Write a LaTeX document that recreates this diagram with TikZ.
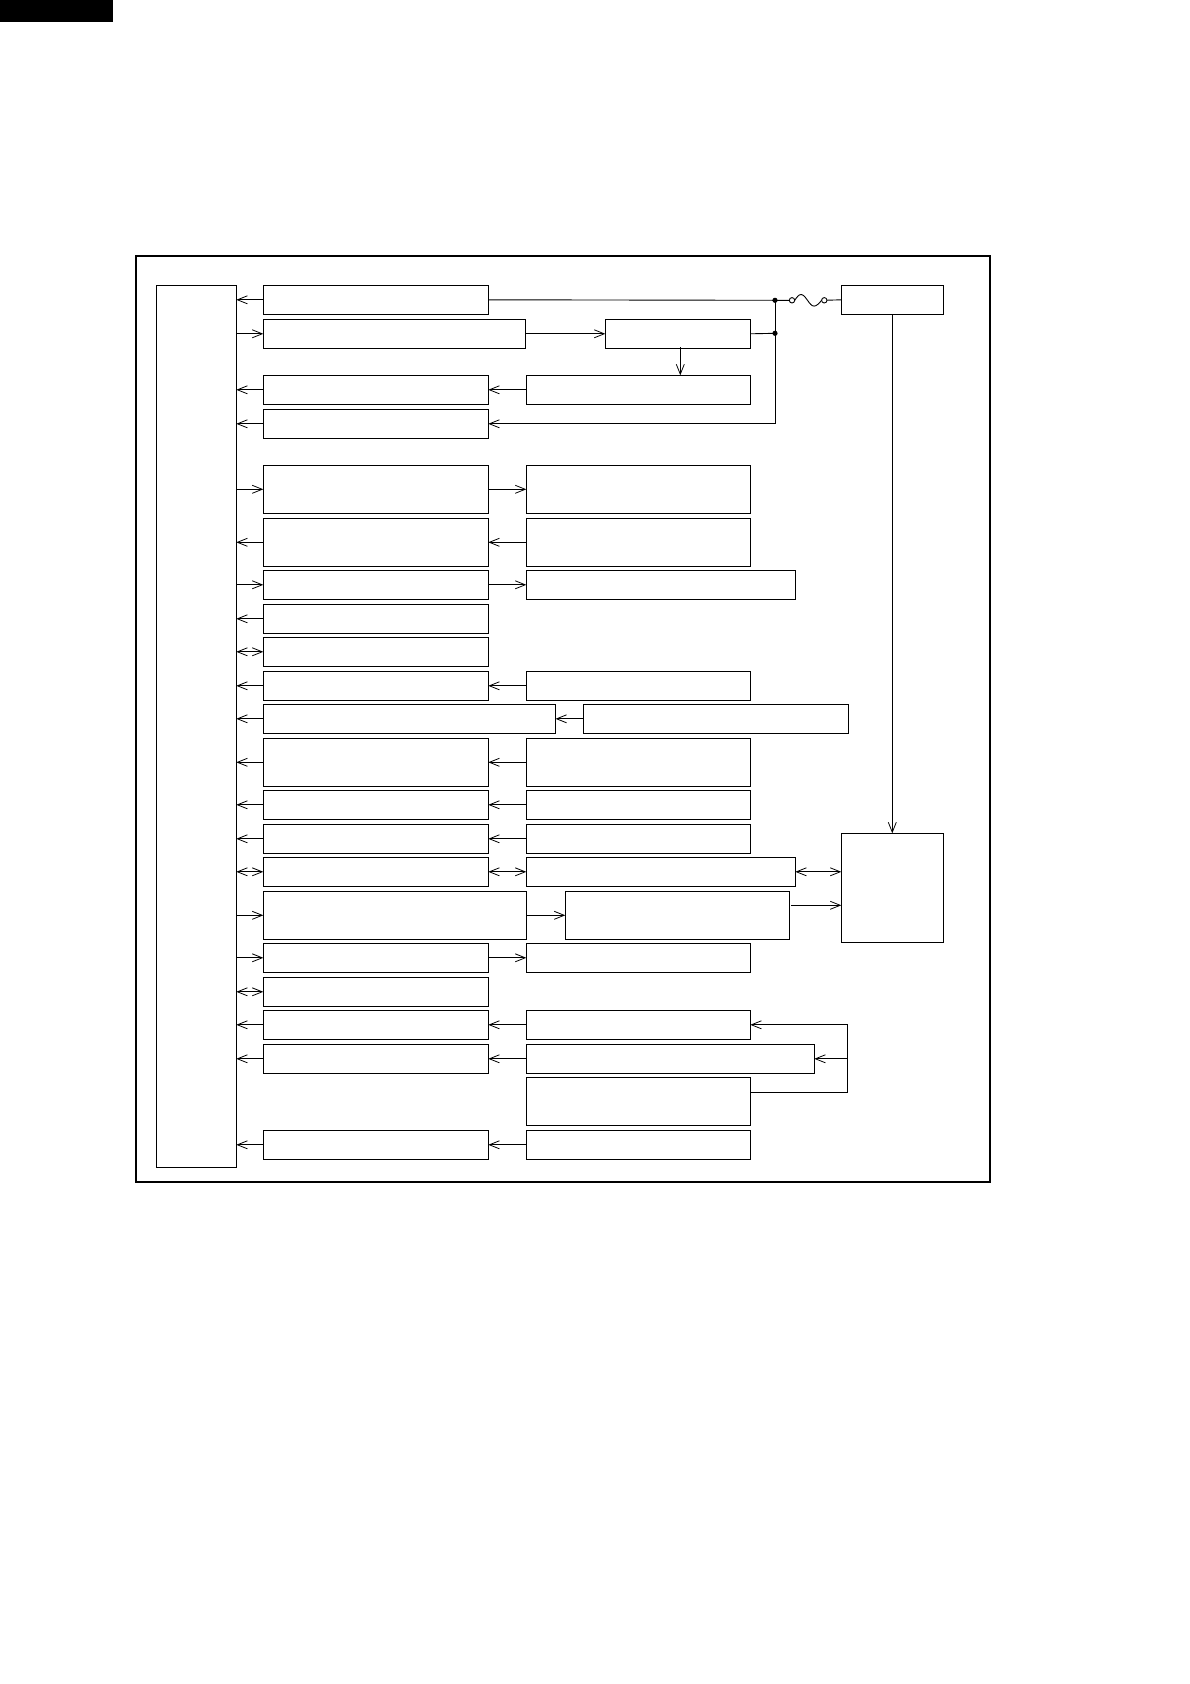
\documentclass[tikz,border=0pt]{standalone}
\usepackage{tikz}
\usetikzlibrary{arrows.meta}
\tikzset{box/.style  = {draw, line width=0.9pt, inner sep=0pt, outer sep=0pt, anchor=north west,
                        minimum width=225pt, minimum height=29pt},
         tall/.style = {box, minimum height=48pt},
         wire/.style = {line width=0.9pt},
         arw/.style  = {wire, -{Straight Barb[length=10pt, width=8pt, line width=0.8pt]}},
         darw/.style = {wire, {Straight Barb[length=10pt, width=8pt, line width=0.8pt]}-{Straight Barb[length=10pt, width=8pt, line width=0.8pt]}}}

\begin{document}
\begin{tikzpicture}[x=1pt, y=-1pt]
    \useasboundingbox (0, 0) rectangle (1190, 1684);

    \fill (0, 0) rectangle (113, 21.5);

    \draw [line width=1.8pt] (136, 256) rectangle (990, 1182);

    % controller column
    \node [box, minimum width=80.3pt, minimum height=882pt] (mcu) at (156, 285.3) {};

    % first column
    \node [box] (a1) at (263.3, 285.3) {};
    \node [box, minimum width=262pt] (a2) at (263.3, 319.3) {};
    \node [box] (a3) at (263.3, 375.3) {};
    \node [box] (a4) at (263.3, 409.3) {};
    \node [tall] (a5) at (263.3, 465.3) {};
    \node [tall] (a6) at (263.3, 518.3) {};
    \node [box] (a7) at (263.3, 570.3) {};
    \node [box] (a8) at (263.3, 604.3) {};
    \node [box] (a9) at (263.3, 637.3) {};
    \node [box] (a10) at (263.3, 671.3) {};
    \node [box, minimum width=292.2pt] (a11) at (263.3, 704.3) {};
    \node [tall] (a12) at (263.3, 738.3) {};
    \node [box] (a13) at (263.3, 790.3) {};
    \node [box] (a14) at (263.3, 824.3) {};
    \node [box] (a15) at (263.3, 857.3) {};
    \node [tall, minimum width=263pt] (a16) at (263.3, 891.3) {};
    \node [box] (a17) at (263.3, 943.3) {};
    \node [box] (a18) at (263.3, 977.3) {};
    \node [box] (a19) at (263.3, 1010.3) {};
    \node [box] (a20) at (263.3, 1044.3) {};
    \node [box] (a22) at (263.3, 1130.3) {};

    % second column
    \node [box, minimum width=145pt] (b2) at (605.3, 319.3) {};
    \node [box, minimum width=224pt] (b3) at (526.3, 375.3) {};
    \node [tall, minimum width=224pt] (b5) at (526.3, 465.3) {};
    \node [tall, minimum width=224pt] (b6) at (526.3, 518.3) {};
    \node [box, minimum width=269pt] (b7) at (526.3, 570.3) {};
    \node [box, minimum width=224pt] (b10) at (526.3, 671.3) {};
    \node [box, minimum width=265pt] (b11) at (583.3, 704.3) {};
    \node [tall, minimum width=224pt] (b12) at (526.3, 738.3) {};
    \node [box, minimum width=224pt] (b13) at (526.3, 790.3) {};
    \node [box, minimum width=224pt] (b14) at (526.3, 824.3) {};
    \node [box, minimum width=269pt] (b15) at (526.3, 857.3) {};
    \node [tall, minimum width=224.4pt] (b16) at (565.3, 891.3) {};
    \node [box, minimum width=224pt] (b17) at (526.3, 943.3) {};
    \node [box, minimum width=224pt] (b19) at (526.3, 1010.3) {};
    \node [box, minimum width=288pt] (b20) at (526.3, 1044.3) {};
    \node [tall, minimum width=224pt] (b21) at (526.3, 1077.3) {};
    \node [box, minimum width=224pt] (b22) at (526.3, 1130.3) {};

    % right side
    \node [box, minimum width=102pt] (psu) at (841.3, 285.3) {};
    \node [box, minimum width=102pt, minimum height=109pt] (ctl) at (841.3, 833.3) {};

    % controller <-> first column
    \foreach \i in {1, 3, 4, 6, 8, 10, 11, 12, 13, 14, 19, 20, 22}
        \draw [arw] (a\i.west) -- (a\i.west -| mcu.east);
    \foreach \i in {2, 5, 7, 16, 17}
        \draw [arw] (a\i.west -| mcu.east) -- (a\i.west);
    \foreach \i in {9, 15, 18}
        \draw [darw] (a\i.west -| mcu.east) -- (a\i.west);

    % first column <-> second column
    \foreach \i in {3, 6, 10, 11, 12, 13, 14, 19, 20, 22}
        \draw [arw] (b\i.west) -- (a\i.east);
    \foreach \i in {2, 5, 7, 16, 17}
        \draw [arw] (a\i.east) -- (b\i.west);
    \draw [darw] (a15.east) -- (b15.west);

    % supply with fuse
    \coordinate (j1) at (775, 300.3);
    \coordinate (j2) at (775, 333.3);
    \coordinate (f1) at (792, 300.3);
    \coordinate (f2) at (824.3, 300.3);
    \coordinate (drop) at (680.3, 347.3);
    \draw [wire] (a1.east) -- (j1) -- (f1);
    \draw [wire] (f2) -- (psu.west);
    \draw [wire] (794.7, 300.3) sin (801, 294.5) cos (807.5, 300.3) sin (814, 306.1) cos (821.6, 300.3);
    \draw [wire, fill=white] (f1) circle [radius=2.7pt];
    \draw [wire, fill=white] (f2) circle [radius=2.7pt];
    \draw [wire] (b2.east) -- (j2);
    \draw [arw] (j1) -- (j1 |- a4.east) -- (a4.east);
    \fill (j1) circle [radius=2.6pt];
    \fill (j2) circle [radius=2.6pt];
    \draw [arw] (drop) -- (drop |- b3.north);

    \draw [arw] (psu.south) -- (ctl.north);
    \draw [darw] (b15.east) -- (b15.east -| ctl.west);
    \draw [arw] (791, 905.3) -- (ctl.west |- 0, 905.3);

    % feedback loop
    \coordinate (loop) at (847.6, 1092.3);
    \draw [arw] (b21.east |- loop) -- (loop) |- (b19.east);
    \draw [arw] (loop |- b20.east) -- (b20.east);
\end{tikzpicture}
\end{document}
